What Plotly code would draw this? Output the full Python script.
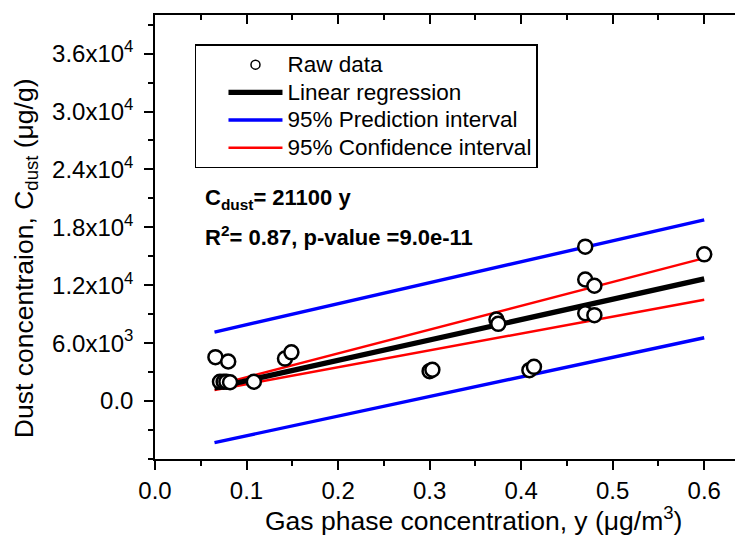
import plotly.graph_objects as go

# ---- data ----
gas_conc = [0.066, 0.080, 0.071, 0.075, 0.078, 0.082, 0.108, 0.142, 0.149,
            0.300, 0.303, 0.373, 0.375, 0.409, 0.414,
            0.470, 0.470, 0.480, 0.470, 0.480, 0.600]
dust_conc = [4550, 4100, 2000, 2000, 2000, 1950, 2000, 4400, 5050,
             3100, 3250, 8450, 8000, 3200, 3550,
             16000, 12600, 11950, 9100, 8900, 15200]

line_x = [0.065, 0.6]
regression = [1370, 12660]
conf_upper = [1600, 14820]
conf_lower = [1140, 10500]
pred_upper = [7150, 18780]
pred_lower = [-4300, 6560]

y_tickvals = [0, 6000, 12000, 18000, 24000, 30000, 36000]
y_ticktext = ["0.0", "6.0x10<sup>3</sup>", "1.2x10<sup>4</sup>", "1.8x10<sup>4</sup>",
              "2.4x10<sup>4</sup>", "3.0x10<sup>4</sup>", "3.6x10<sup>4</sup>"]

legend_names = ["Raw data", "Linear regression", "95% Prediction interval",
                "95% Confidence interval"]

FONT = "Arial, Liberation Sans, sans-serif"
TICK_FS = 24
TITLE_FS = 26.5
LEG_FS = 22.5
ANN_FS = 22


def leg(name):
    return "<span style='font-size:%spx'>%s</span>" % (LEG_FS, name)


fig = go.Figure()

fig.add_trace(go.Scatter(x=[None], y=[None], mode="markers", name=leg(legend_names[0]),
                         marker=dict(size=9, color="white", line=dict(color="black", width=1.5)),
                         legendrank=1))
fig.add_trace(go.Scatter(x=line_x, y=pred_upper, mode="lines", name=leg(legend_names[2]),
                         line=dict(color="#0000ff", width=3.4), legendrank=3, legendgroup="pi"))
fig.add_trace(go.Scatter(x=line_x, y=pred_lower, mode="lines", showlegend=False,
                         line=dict(color="#0000ff", width=3.4), legendgroup="pi"))
fig.add_trace(go.Scatter(x=line_x, y=conf_upper, mode="lines", name=leg(legend_names[3]),
                         line=dict(color="#ff0000", width=2.4), legendrank=4, legendgroup="ci"))
fig.add_trace(go.Scatter(x=line_x, y=conf_lower, mode="lines", showlegend=False,
                         line=dict(color="#ff0000", width=2.4), legendgroup="ci"))
fig.add_trace(go.Scatter(x=line_x, y=regression, mode="lines", name=leg(legend_names[1]),
                         line=dict(color="black", width=5.3), legendrank=2))
fig.add_trace(go.Scatter(x=gas_conc, y=dust_conc, mode="markers", showlegend=False,
                         marker=dict(size=14, color="white", line=dict(color="black", width=2.5))))
fig.add_trace(go.Scatter(x=[None], y=[None], xaxis="x2", yaxis="y2", showlegend=False,
                         hoverinfo="skip"))

axis_common = dict(showgrid=False, zeroline=False, showline=True, linecolor="black",
                   linewidth=1.5, tickcolor="black", tickwidth=1.5)

# page body has an 8px margin: the figure is shifted, margins compensate
fig.update_layout(
    width=744, height=537,
    margin=dict(l=147, r=2, t=7, b=86),
    paper_bgcolor="white", plot_bgcolor="white",
    font=dict(family=FONT, size=TICK_FS, color="black"),
    showlegend=True,
    legend=dict(x=0.0672, y=0.934, xanchor="left", yanchor="top",
                bordercolor="black", borderwidth=1.5, bgcolor="white",
                font=dict(size=19), tracegroupgap=0,
                itemwidth=54, indentation=27),
    xaxis=dict(range=[0, 0.65], tickmode="linear", tick0=0, dtick=0.1, tickformat=".1f",
               ticks="outside", ticklen=9,
               minor=dict(dtick=0.05, tick0=0, ticks="outside", ticklen=5,
                          tickcolor="black", tickwidth=1.5),
               tickfont=dict(size=TICK_FS), **axis_common),
    xaxis2=dict(range=[0, 0.65], overlaying="x", side="top", anchor="y",
                tickmode="linear", tick0=0, dtick=0.1, ticks="inside", ticklen=9,
                showticklabels=False,
                minor=dict(dtick=0.05, tick0=0, ticks="inside", ticklen=5,
                           tickcolor="black", tickwidth=1.5),
                **axis_common),
    yaxis=dict(range=[-6000, 40000], tickmode="array", tickvals=y_tickvals, ticktext=y_ticktext,
               ticks="outside", ticklen=9, ticklabelstandoff=6,
               minor=dict(tickmode="linear", dtick=3000, tick0=0, ticks="outside", ticklen=5,
                          tickcolor="black", tickwidth=1.5),
               tickfont=dict(size=TICK_FS), **axis_common),
    yaxis2=dict(range=[-6000, 40000], overlaying="y", side="right", anchor="x",
                tickmode="array", tickvals=y_tickvals, ticks="inside", ticklen=9,
                showticklabels=False,
                minor=dict(tickmode="linear", dtick=3000, tick0=0, ticks="inside", ticklen=5,
                           tickcolor="black", tickwidth=1.5),
                **axis_common),
    annotations=[
        dict(text="Gas phase concentration, y (μg/m<sup>3</sup>)", xref="paper", yref="paper",
             x=0.5345, y=-0.135, xanchor="center", yanchor="middle", showarrow=False,
             font=dict(size=TITLE_FS)),
        dict(text="Dust concentraion, C<sub>dust</sub> (μg/g)", xref="paper", yref="paper",
             x=-0.2171, y=0.452, xanchor="center", yanchor="middle", showarrow=False,
             textangle=-90, font=dict(size=TITLE_FS)),
        dict(text="<b>C<sub>dust</sub>= 21100 y</b>", xref="paper", yref="paper",
             x=0.0812, y=0.5856, xanchor="left", yanchor="middle", showarrow=False,
             font=dict(size=ANN_FS)),
        dict(text="<b>R<sup>2</sup>= 0.87, p-value =9.0e-11</b>", xref="paper", yref="paper",
             x=0.0812, y=0.502, xanchor="left", yanchor="middle", showarrow=False,
             font=dict(size=ANN_FS)),
    ],
)

fig.write_html("out.html")
